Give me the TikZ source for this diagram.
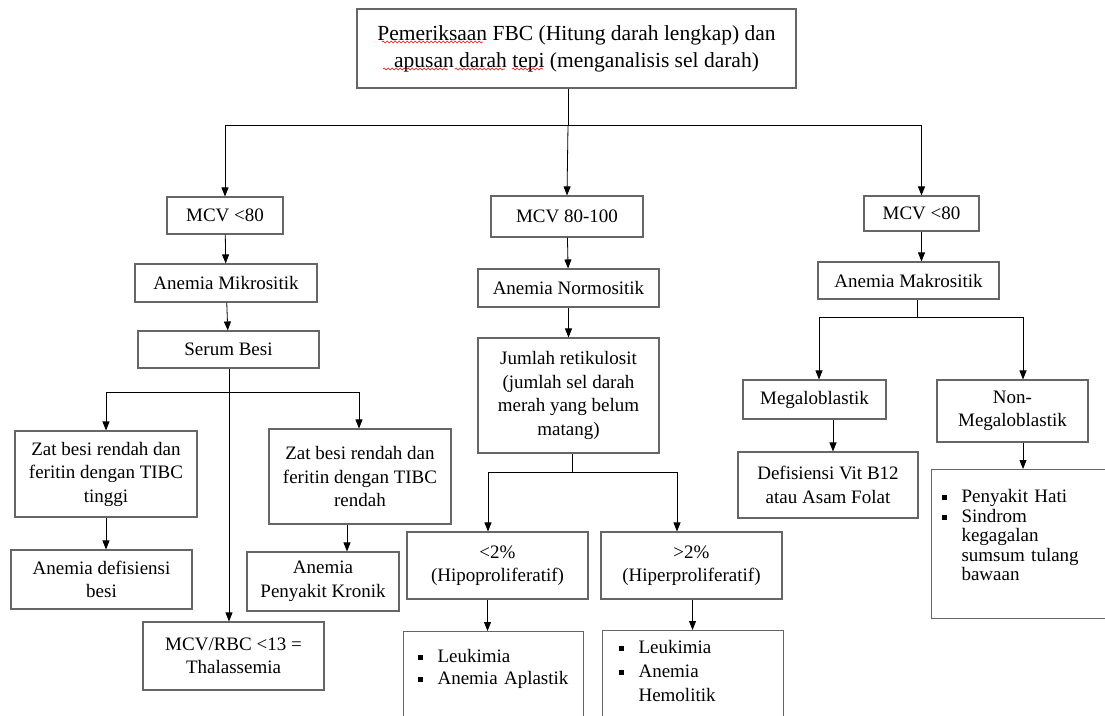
\documentclass[tikz,border=0pt]{standalone}
\usepackage{fontspec}
\setmainfont{Liberation Serif}
\usetikzlibrary{arrows.meta,decorations.pathmorphing}
\newcommand{\itm}{\makebox[20pt][l]{\rule[0.12em]{0.28em}{0.28em}}}
\newcommand{\ind}{\hspace*{20pt}}
\tikzset{
	box/.style={draw=black!60, line width=1.1pt, align=center, inner sep=2pt,
		font=\fontsize{19}{23.5}\selectfont},
	lst/.style={box, align=left, anchor=north west},
	arr/.style={-{Triangle[width=7pt,length=9pt]}, line width=0.8pt},
	squig/.style={red, line width=0.6pt, decorate,
		decoration={snake, amplitude=0.9pt, segment length=4pt}},
}
\begin{document}
\begin{tikzpicture}[x=1pt, y=-1pt]
		%%%%% START %%%%%
		\clip (0, 0) rectangle (1105, 715);
		
		\node[box, minimum width=439pt, minimum height=79pt, font=\fontsize{21.5}{27}\selectfont] (top) at (576.5, 48.5) {Pemeriksaan FBC (Hitung darah lengkap) dan\\apusan darah tepi (menganalisis sel darah)};
		\draw[squig] (382, 42) -- (483, 42);
		\draw[squig] (383, 69) -- (448, 69);
		\draw[squig] (455, 69) -- (505, 69);
		\draw[squig] (512, 69) -- (543, 69);
		
		% left column
		\node[box, minimum width=116pt, minimum height=37pt] (mcvL) at (225, 215.5) {MCV <80};
		\node[box, minimum width=182pt, minimum height=38pt] (mikro) at (226, 283) {Anemia Mikrositik};
		\node[box, minimum width=181pt, minimum height=37pt] (serum) at (228.5, 349.5) {Serum Besi};
		\node[box, minimum width=182pt, minimum height=86pt] (zatT) at (106, 474) {Zat besi rendah dan\\feritin dengan TIBC\\tinggi};
		\node[box, minimum width=182pt, minimum height=95pt] (zatR) at (360, 476.5) {Zat besi rendah dan\\feritin dengan TIBC\\rendah};
		\node[box, minimum width=181pt, minimum height=59pt] (defBesi) at (101.5, 579.5) {Anemia defisiensi\\besi};
		\node[box, minimum width=152pt, minimum height=59pt] (kronik) at (323, 581.5) {Anemia\\Penyakit Kronik};
		\node[box, minimum width=181pt, minimum height=68pt] (thal) at (233.5, 656) {MCV/RBC <13 =\\Thalassemia};
		
		% middle column
		\node[box, minimum width=152pt, minimum height=41pt] (mid1) at (567, 216.5) {MCV 80-100};
		\node[box, minimum width=181pt, minimum height=38pt] (normo) at (568.5, 288) {Anemia Normositik};
		\node[box, minimum width=181pt, minimum height=115pt] (retik) at (568.5, 395.5) {Jumlah retikulosit\\(jumlah sel darah\\merah yang belum\\matang)};
		\node[box, minimum width=181pt, minimum height=67pt] (hipo) at (497.5, 565.5) {<2\%\\(Hipoproliferatif)};
		\node[box, minimum width=181pt, minimum height=67pt] (hiper) at (691.5, 565.5) {>2\%\\(Hiperproliferatif)};
		\node[lst, inner xsep=14pt, inner ysep=18pt, text width=152pt, text depth=80pt, font=\fontsize{19}{22}\selectfont] (list1) at (403, 631) {\itm Leukimia\\\itm Anemia Aplastik};
		\node[lst, inner xsep=16pt, inner ysep=10pt, text width=149pt, text depth=80pt, font=\fontsize{19}{24}\selectfont] (list2) at (602, 630) {\itm Leukimia\\\itm Anemia\\\ind Hemolitik};
		
		% right column
		\node[box, minimum width=115pt, minimum height=35pt] (mcvR) at (921.5, 213.5) {MCV <80};
		\node[box, minimum width=181pt, minimum height=37pt] (makro) at (908.5, 280.5) {Anemia Makrositik};
		\node[box, minimum width=143pt, minimum height=39pt] (mega) at (814.5, 399.5) {Megaloblastik};
		\node[box, minimum width=151pt, minimum height=62pt] (nonmega) at (1012.5, 411) {Non-\\Megaloblastik};
		\node[box, minimum width=180pt, minimum height=66pt] (vitb) at (828, 485) {Defisiensi Vit B12\\atau Asam Folat};
		\node[lst, inner xsep=10pt, inner ysep=20pt, text width=180pt, text depth=96pt, font=\fontsize{19}{19.5}\selectfont] (list3) at (931, 469) {\itm Penyakit Hati\\\itm Sindrom\\\ind kegagalan\\\ind sumsum tulang\\\ind bawaan};
		
		% connectors
		\coordinate (j0) at (568, 125);
		\draw[line width=0.8pt] (top.south -| j0) -- (j0);
		\draw[arr] (j0) -| (mcvL.north);
		\draw[arr] (j0) -- (mid1.north);
		\draw[arr] (j0) -| (mcvR.north);
		
		\draw[arr] (mcvL) -- (mikro);
		\draw[arr] (mikro) -- (serum);
		\coordinate (j1) at (229, 392);
		\draw[arr] (serum.south -| j1) -- (j1 |- thal.north);
		\draw[arr] (j1) -| (zatT.north);
		\draw[arr] (j1) -| ([xshift=-1pt]zatR.north);
		\draw[arr] (zatT) -- (defBesi.north -| zatT);
		\draw[arr] ([xshift=-13pt]zatR.south) -- ([xshift=-13pt]zatR.south |- kronik.north);
		
		\draw[arr] (mid1) -- (normo);
		\draw[arr] (normo) -- (retik);
		\coordinate (j2) at (572, 472);
		\draw[line width=0.8pt] (retik.south -| j2) -- (j2);
		\draw[arr] (j2) -| ([xshift=-9.5pt]hipo.north);
		\draw[arr] (j2) -| ([xshift=-14.5pt]hiper.north);
		\draw[arr] ([xshift=-10pt]hipo.south) -- ([xshift=-10pt]hipo.south |- list1.north);
		\draw[arr] ([xshift=1pt]hiper.south) -- ([xshift=1pt]hiper.south |- list2.north);
		
		\draw[arr] (mcvR) -- (mcvR |- makro.north);
		\coordinate (j3) at (917, 317);
		\draw[line width=0.8pt] (makro.south -| j3) -- (j3);
		\draw[arr] (j3) -| ([xshift=4.5pt]mega.north);
		\draw[arr] (j3) -| ([xshift=10.5pt]nonmega.north);
		\draw[arr] ([xshift=18.5pt]mega.south) -- ([xshift=18.5pt]mega.south |- vitb.north);
		\draw[arr] ([xshift=10.5pt]nonmega.south) -- ([xshift=10.5pt]nonmega.south |- list3.north);
		
		%%%%% END %%%%%
\end{tikzpicture}
\end{document}
